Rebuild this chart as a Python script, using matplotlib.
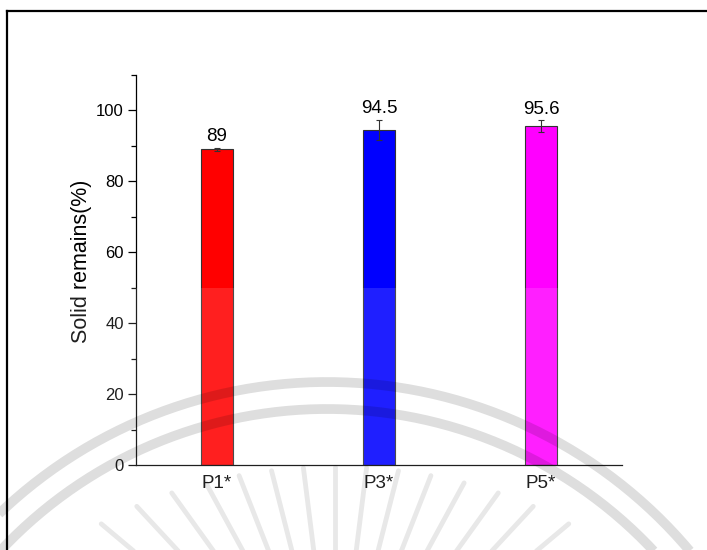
import numpy as np
import matplotlib
matplotlib.use('Agg')
import matplotlib.pyplot as plt
from matplotlib.ticker import MultipleLocator

matplotlib.rcParams.update({'font.family': ['Liberation Sans', 'DejaVu Sans']})

samples = ["P1*", "P3*", "P5*"]
solid = [89, 94.5, 95.6]
solid_err = [0.5, 2.8, 1.6]
bar_colors = ['#ff0000', '#0000ff', '#ff00ff']

fig = plt.figure(figsize=(7.07, 5.5), dpi=100)
ax = fig.add_axes([0.1924, 0.1545, 0.6874, 0.7091])

pos = np.arange(1, len(samples) + 1)
ax.bar(pos, solid, width=0.2, color=bar_colors, edgecolor='#333333', linewidth=0.8,
       yerr=solid_err, error_kw=dict(ecolor='#333333', elinewidth=0.8, capsize=2.5, capthick=0.8))

for x, v, e in zip(pos, solid, solid_err):
    ax.annotate('{0:g}'.format(v), (x, v + e), xytext=(0, 2), textcoords='offset points',
                ha='center', va='bottom', fontsize=13.5)

ax.set_xlim(0.5, 3.5)
ax.set_ylim(0, 110)
ax.set_xticks(pos)
ax.set_xticklabels(samples, fontsize=13.5)
ax.tick_params(axis='x', length=0, pad=7)
ax.yaxis.set_major_locator(MultipleLocator(20))
ax.yaxis.set_minor_locator(MultipleLocator(10))
ax.tick_params(axis='y', which='major', length=5.8, width=0.9, labelsize=12, pad=3)
ax.tick_params(axis='y', which='minor', length=3.6, width=0.9)
ax.set_ylabel("Solid remains(%)", fontsize=15.5)
ax.yaxis.set_label_coords(-0.09, 0.522)
for side in ['top', 'right']:
    ax.spines[side].set_visible(False)
for side in ['left', 'bottom']:
    ax.spines[side].set_linewidth(0.9)

# page overlay in pixel coordinates: frame, faded lower half, seal marks
ov = fig.add_axes([0, 0, 1, 1], zorder=5)
ov.set_xlim(0, 707)
ov.set_ylim(550, 0)
ov.axis('off')
ov.patch.set_alpha(0)

ov.plot([7, 707], [11, 11], color='black', lw=1.6)
ov.plot([7, 7], [11, 550], color='black', lw=1.6)
ov.add_patch(plt.Rectangle((0, 288), 707, 262, color='white', alpha=0.125, lw=0))

cx, cy = 327, 856
t = np.linspace(0, 2 * np.pi, 720)
for r in (474, 447):
    ov.plot(cx + r * np.cos(t), cy + r * np.sin(t), color='black', alpha=0.13, lw=7,
            solid_capstyle='butt')

# sunburst rays, outer ends on an ellipse
sx, sy = 335, 720
for a in np.linspace(40, 140, 15):
    ang = np.radians(a)
    c, s = np.cos(ang), np.sin(ang)
    k = 1.0 / np.sqrt((c / 370) ** 2 + (s / 253) ** 2)
    r1, r2 = 0.6 * k, k
    ov.plot([sx + r1 * c, sx + r2 * c], [sy - r1 * s, sy - r2 * s],
            color='black', alpha=0.09, lw=3.5, solid_capstyle='round')

fig.savefig('out.png', dpi=100)
